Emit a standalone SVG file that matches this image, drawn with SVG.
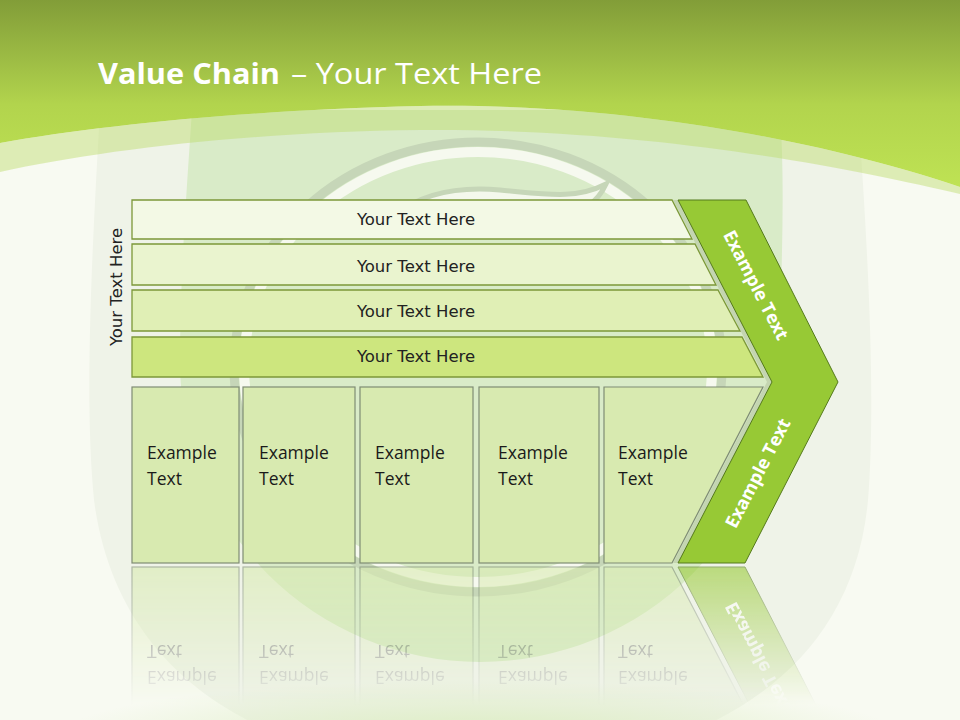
<svg xmlns="http://www.w3.org/2000/svg" width="960" height="720" viewBox="0 0 960 720">
<defs>
  <linearGradient id="hdr" gradientUnits="userSpaceOnUse" x1="0" y1="0" x2="0" y2="190">
    <stop offset="0" stop-color="#829d38"/>
    <stop offset="0.3" stop-color="#9cbb44"/>
    <stop offset="0.55" stop-color="#b2d44d"/>
    <stop offset="1" stop-color="#bfe354"/>
  </linearGradient>
  <radialGradient id="glow" cx="0.5" cy="0.5" r="0.5">
    <stop offset="0" stop-color="#dcedc2"/>
    <stop offset="1" stop-color="#dcedc2" stop-opacity="0"/>
  </radialGradient>
  <linearGradient id="fadeGrad" gradientUnits="userSpaceOnUse" x1="0" y1="565" x2="0" y2="705">
    <stop offset="0" stop-color="#fff" stop-opacity="0.6"/>
    <stop offset="1" stop-color="#fff" stop-opacity="0"/>
  </linearGradient>
  <mask id="fade" maskUnits="userSpaceOnUse" x="0" y="560" width="960" height="160">
    <rect x="0" y="560" width="960" height="160" fill="url(#fadeGrad)"/>
  </mask>
  <style>
    .bar { stroke: #7c9838; stroke-width: 1.3; }
    .box { fill: #d8eab0; stroke: #7f8c74; stroke-width: 1.2; }
    .chev { fill: #97c935; stroke: #557a1c; stroke-width: 1; }
    .bt { font-family: "DejaVu Sans", Verdana, sans-serif; font-size: 16.5px; fill: #222; text-anchor: middle; }
    .et { font-family: "Open Sans", "Liberation Sans", sans-serif; font-size: 17.5px; fill: #1a1a1a; }
    .ct { font-family: "Open Sans", "Liberation Sans", sans-serif; font-size: 18px; font-weight: bold; fill: #fff; text-anchor: middle; }
    .tt { font-family: "Open Sans", "Liberation Sans", sans-serif; font-size: 29px; fill: #fff; }
  </style>
</defs>

<g id="background">
  <rect x="0" y="0" width="960" height="720" fill="#f8faf2"/>
  <path d="M100 110 C92 250 84 400 94 500 C120 700 300 770 480 770 C660 770 850 700 868 500 C876 400 868 250 858 110 Z" fill="#eff3e8"/>
  <path d="M192 110 C186 200 180 280 180 362 A300 300 0 0 0 780 362 C780 280 786 200 780 110 Z" fill="#d9ebc8"/>
  <ellipse cx="478" cy="367" rx="244" ry="225" fill="none" stroke="#c6d6b8" stroke-width="9"/>
  <ellipse cx="478" cy="367" rx="234" ry="215" fill="none" stroke="#f6f9ef" stroke-width="10"/>
  <path d="M395 215 C420 195 455 186 500 190 C545 194 575 200 606 184 C598 202 582 214 555 218 L520 222 C480 216 440 214 395 225 Z" fill="#f4f8ec" stroke="#c6d6b8" stroke-width="5"/>
  <path d="M0 0 H960 V187 C850 150 650 102 420 106 C250 110 100 125 0 143 Z" fill="url(#hdr)"/>
  <path d="M0 143 C100 125 250 110 420 106 C650 102 850 150 960 187 L960 194 C850 168 650 128 420 130 C250 132 100 150 0 172 Z" fill="#bddc6a" opacity="0.45"/>
  <ellipse cx="480" cy="735" rx="420" ry="55" fill="url(#glow)"/>
</g>

<g id="title">
  <text class="tt" x="98" y="84" font-weight="bold" textLength="182" lengthAdjust="spacingAndGlyphs">Value Chain</text>
  <text class="tt" x="291" y="84" textLength="251" lengthAdjust="spacingAndGlyphs">– Your Text Here</text>
</g>

<g id="side-label">
  <text class="bt" font-size="17" fill="#111" transform="translate(122,287) rotate(-90)">Your Text Here</text>
</g>

<g id="chevron-shadow">
  <polygon points="673,200 741,200 833,382 740,563 673,563 767,382" fill="#bccdaa" opacity="0.75"/>
</g>

<g id="bar1">
  <polygon class="bar" points="132,200 672,200 692,239 132,239" fill="#f3f9e5"/>
  <text class="bt" x="416" y="225">Your Text Here</text>
</g>
<g id="bar2">
  <polygon class="bar" points="132,244 695,244 716,285 132,285" fill="#eaf4cf"/>
  <text class="bt" x="416" y="272">Your Text Here</text>
</g>
<g id="bar3">
  <polygon class="bar" points="132,290 718,290 740,331 132,331" fill="#e0efb5"/>
  <text class="bt" x="416" y="317">Your Text Here</text>
</g>
<g id="bar4">
  <polygon class="bar" points="132,337 742,337 763,377 132,377" fill="#cde67e"/>
  <text class="bt" x="416" y="362">Your Text Here</text>
</g>

<g id="box1">
  <rect class="box" x="132" y="387" width="107" height="176"/>
  <text class="et" x="147" y="459">Example</text>
  <text class="et" x="147" y="485">Text</text>
</g>
<g id="box2">
  <rect class="box" x="243" y="387" width="112" height="176"/>
  <text class="et" x="259" y="459">Example</text>
  <text class="et" x="259" y="485">Text</text>
</g>
<g id="box3">
  <rect class="box" x="360" y="387" width="113" height="176"/>
  <text class="et" x="375" y="459">Example</text>
  <text class="et" x="375" y="485">Text</text>
</g>
<g id="box4">
  <rect class="box" x="479" y="387" width="120" height="176"/>
  <text class="et" x="498" y="459">Example</text>
  <text class="et" x="498" y="485">Text</text>
</g>
<g id="box5">
  <polygon class="box" points="604,387 763,387 672,563 604,563"/>
  <text class="et" x="618" y="459">Example</text>
  <text class="et" x="618" y="485">Text</text>
</g>

<g id="chevron">
  <polygon class="chev" points="678,200 746,200 838,382 745,563 678,563 772,382"/>
  <text class="ct" transform="translate(750.5,288) rotate(62.7)">Example Text</text>
  <text class="ct" transform="translate(763.5,476) rotate(-62.7)">Example Text</text>
</g>

<g id="reflection" mask="url(#fade)">
  <g transform="translate(0,1130) scale(1,-1)">
    <rect class="box" x="132" y="387" width="107" height="176" stroke="#f4f7ee"/>
    <rect class="box" x="243" y="387" width="112" height="176" stroke="#f4f7ee"/>
    <rect class="box" x="360" y="387" width="113" height="176" stroke="#f4f7ee"/>
    <rect class="box" x="479" y="387" width="120" height="176" stroke="#f4f7ee"/>
    <polygon class="box" points="604,387 763,387 672,563 604,563" stroke="#f4f7ee"/>
    <polygon class="chev" points="772,382 838,382 745,563 678,563" fill="#a9d45a" stroke="none"/>
    <text class="et" x="147" y="459" fill="#666">Example</text>
    <text class="et" x="147" y="485" fill="#666">Text</text>
    <text class="et" x="259" y="459" fill="#666">Example</text>
    <text class="et" x="259" y="485" fill="#666">Text</text>
    <text class="et" x="375" y="459" fill="#666">Example</text>
    <text class="et" x="375" y="485" fill="#666">Text</text>
    <text class="et" x="498" y="459" fill="#666">Example</text>
    <text class="et" x="498" y="485" fill="#666">Text</text>
    <text class="et" x="618" y="459" fill="#666">Example</text>
    <text class="et" x="618" y="485" fill="#666">Text</text>
    <text class="ct" transform="translate(763.5,476) rotate(-62.7)">Example Text</text>
  </g>
</g>
</svg>
